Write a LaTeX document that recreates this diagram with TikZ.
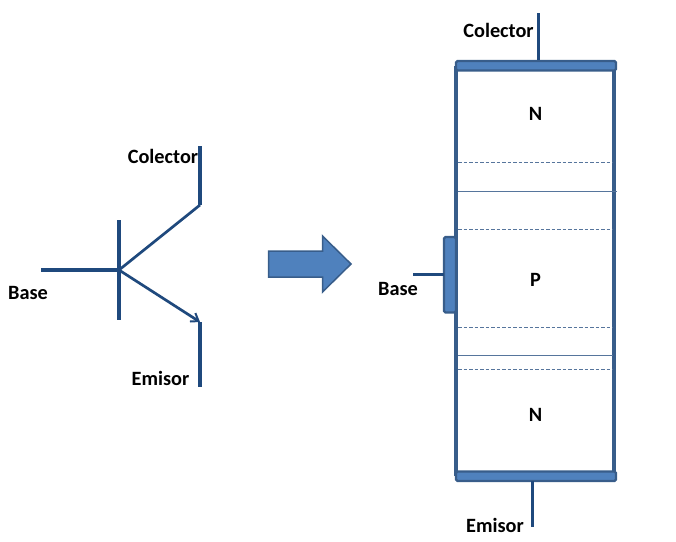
\documentclass[tikz,border=0pt]{standalone}
\usepackage{fontspec}
\setmainfont{Carlito}
\usetikzlibrary{arrows.meta}
\definecolor{wire}{HTML}{1F497D}
\definecolor{edge}{HTML}{385D8A}
\definecolor{fillb}{HTML}{4F81BD}
\tikzset{
  x=1pt,y=-1pt,
  wireline/.style={draw=wire,line width=3.1pt},
  diagline/.style={draw=wire,line width=2.7pt},
  bodyline/.style={draw=edge,line width=3.4pt},
  plate/.style={draw=edge,line width=2.4pt,fill=fillb,rounded corners=1.5pt},
  sep/.style={draw=edge!85!white,line width=0.8pt},
  sepdash/.style={sep,dash pattern=on 3.5pt off 2pt},
  lbl/.style={font=\bfseries\fontsize{20.3}{22}\selectfont,text=black,inner sep=0pt},
}
\begin{document}
\begin{tikzpicture}
\useasboundingbox (0,0) rectangle (676,541);
% symbol
\coordinate (bl) at (41,270);
\coordinate (bc) at (119,270);
\coordinate (bt) at (119,220);
\coordinate (bb) at (119,320);
\coordinate (ck) at (200,205);
\coordinate (ct) at (200,146);
\coordinate (ek) at (200,322);
\coordinate (eb) at (200,387);
\draw[wireline] (bl) -- (bc);
\draw[wireline] (bt) -- (bb);
\draw[diagline] (bc) -- (ck);
\draw[wireline] (ck) -- (ct);
\draw[diagline,-{Straight Barb[length=7pt,width=10pt,line width=2pt]}] (bc) -- (ek);
\draw[wireline] (ek) -- (eb);
\node[lbl] (colL) at (163,156.5) {Colector};
\node[lbl] (baseL) at (28,293) {Base};
\node[lbl] (emiL) at (160.5,378) {Emisor};
% arrow
\draw[draw=edge,line width=1.5pt,fill=fillb,line join=miter]
  (268.5,251) -- (322.5,251) -- (322.5,236) -- (351,264) -- (322.5,292) -- (322.5,277) -- (268.5,277) -- cycle;
% body
\coordinate (tl) at (456,66);
\coordinate (tr) at (614,66);
\coordinate (dl) at (456,476);
\coordinate (dr) at (614,476);
\draw[bodyline] (tl) -- (dl);
\draw[bodyline] (tr) -- (dr);
\draw[sepdash] (458,162) -- (613,162);
\draw[sep] (458,191.5) -- (617,191.5);
\draw[sepdash] (458,229.5) -- (613,229.5);
\draw[sepdash] (458,327.5) -- (613,327.5);
\draw[sep] (458,355.5) -- (613,355.5);
\draw[sepdash] (458,369.5) -- (613,369.5);
% plates
\draw[plate] (456,61) rectangle (616,70.5);
\draw[plate] (456,471.5) rectangle (616,481);
\draw[plate] (444,237) rectangle (456,312.5);
% leads
\coordinate (cl) at (538.5,13);
\coordinate (cp) at (538.5,60);
\coordinate (ep) at (532.5,481);
\coordinate (el) at (532.5,527);
\coordinate (bs) at (413,274.5);
\coordinate (bp) at (444,274.5);
\draw[wireline] (cl) -- (cp);
\draw[wireline] (ep) -- (el);
\draw[wireline] (bs) -- (bp);
\node[lbl] (colR) at (498.5,30.5) {Colector};
\node[lbl] (baseR) at (398,288.5) {Base};
\node[lbl] (emiR) at (495,525.5) {Emisor};
\node[lbl] (n1) at (535.5,114) {N};
\node[lbl] (p) at (535.5,280) {P};
\node[lbl] (n2) at (535.5,415) {N};
\end{tikzpicture}
\end{document}
